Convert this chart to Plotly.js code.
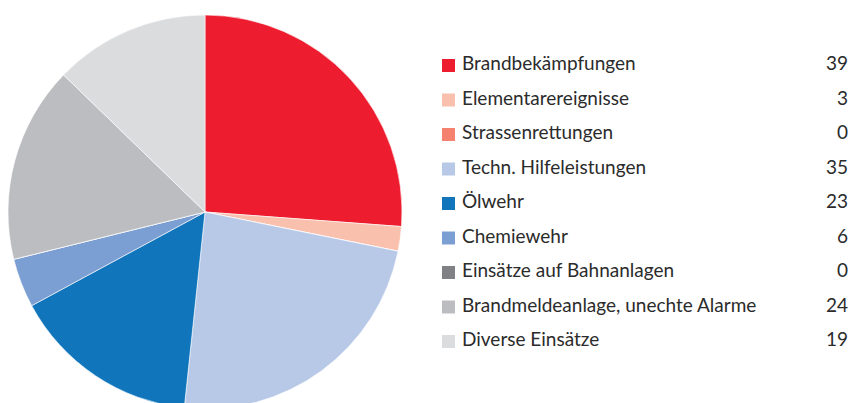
<!DOCTYPE html>
<html>
<head>
<meta charset="utf-8">
<script src="https://cdn.plot.ly/plotly-3.0.1.min.js"></script>
<style>
html, body { margin: 0; padding: 0; overflow: hidden; background: #fff; }
#chart { width: 852px; height: 430px; }
</style>
</head>
<body>
<div id="chart"></div>
<script>
const labels = ["Brandbekämpfungen", "Elementarereignisse", "Strassenrettungen", "Techn. Hilfeleistungen", "Ölwehr", "Chemiewehr", "Einsätze auf Bahnanlagen", "Brandmeldeanlage, unechte Alarme", "Diverse Einsätze"];
const values = [39, 3, 0, 35, 23, 6, 0, 24, 19];
const colors = ["#ED1C2E", "#F9C0AE", "#F4826E", "#B8C9E7", "#1175BC", "#7B9FD3", "#808184", "#BCBDC0", "#DBDCDE"];

const W = 852, H = 430;
const px = x => x / W;
const py = y => 1 - y / H;

const rowTop = 65.5, rowStep = 34.5;
const shapes = [];
const annotations = [];
const font = "Lato, 'Open Sans', sans-serif";
labels.forEach((lab, i) => {
  const cy = rowTop + i * rowStep;
  shapes.push({
    type: "rect", xref: "paper", yref: "paper",
    x0: px(442), x1: px(455), y0: py(cy - 6.5), y1: py(cy + 6.5),
    fillcolor: colors[i], line: { width: 0 }
  });
  annotations.push({
    xref: "paper", yref: "paper", x: px(460), y: py(cy - 3),
    xanchor: "left", yanchor: "middle", showarrow: false,
    text: lab, font: { family: font, size: 19, color: "#2b2b2b" }
  });
  annotations.push({
    xref: "paper", yref: "paper", x: px(850), y: py(cy - 3),
    xanchor: "right", yanchor: "middle", showarrow: false,
    text: String(values[i]), font: { family: font, size: 19, color: "#2b2b2b" }
  });
});

const data = [{
  type: "pie",
  labels: labels,
  values: values,
  sort: false,
  direction: "clockwise",
  rotation: 0,
  textinfo: "none",
  hoverinfo: "label+value",
  marker: { colors: colors, line: { color: "#ffffff", width: 0.6 } },
  domain: { x: [px(8), px(402)], y: [1 - 409 / H, 1 - 15 / H] }
}];

const layout = {
  width: W, height: H,
  margin: { l: 0, r: 0, t: 0, b: 0 },
  showlegend: false,
  paper_bgcolor: "#ffffff",
  shapes: shapes,
  annotations: annotations
};

Plotly.newPlot("chart", data, layout, { displayModeBar: false, staticPlot: true });
</script>
</body>
</html>
